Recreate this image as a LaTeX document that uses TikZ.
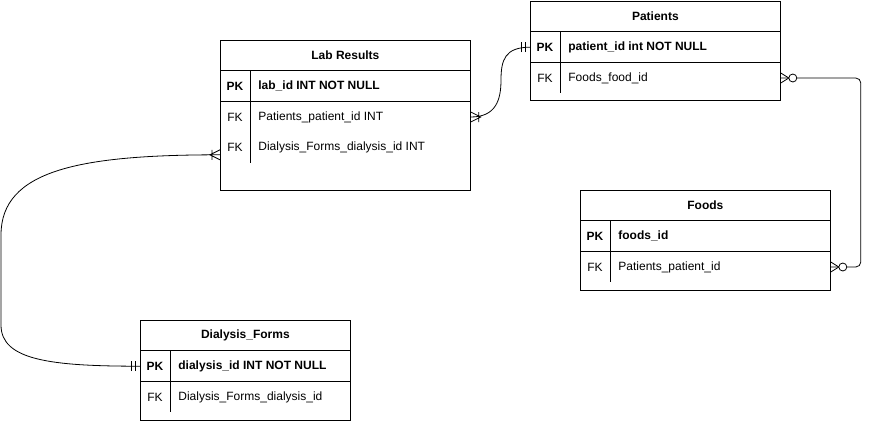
\documentclass[tikz,border=0pt]{standalone}
\usepackage{fontspec}
\setmainfont{Liberation Sans}
\usetikzlibrary{positioning,calc}

\tikzset{
    entity/.style={draw, minimum width=#1, anchor=north west, inner sep=0pt},
    entity/.default=250pt,
    row/.style={minimum width=#1, minimum height=30pt, anchor=north west, inner sep=0pt},
    row/.default=250pt,
    keylabel/.style={anchor=center, xshift=15pt, inner sep=0pt},
    fieldlabel/.style={anchor=west, xshift=38pt, inner sep=0pt},
    mandone/.pic={
        \draw (5,-5) -- (5,5) (9,-5) -- (9,5);
    },
    onemany/.pic={
        \draw (0,-5) -- (10,0) -- (0,5) (8,-5) -- (8,5);
    },
    zeromany/.pic={
        \draw (0,-5) -- (8,0) -- (0,5);
        \draw[fill=white] (12,0) circle[radius=4];
    },
}

\begin{document}
\begin{tikzpicture}[x=1pt, y=-1pt, line width=0.8pt, font=\fontsize{12}{14}\selectfont]
    \useasboundingbox (0,0) rectangle (870,421);

    \node[entity, minimum height=150pt] (lab) at (220,40) {};
    \node[row] (lab-title) at (lab.north west) {\bfseries Lab Results};
    \node[row, below=0pt of lab-title] (lab-pk) {};
    \node[row, below=0pt of lab-pk] (lab-fk1) {};
    \node[row, below=0pt of lab-fk1] (lab-fk2) {};
    \draw (lab-title.south west) -- (lab-title.south east);
    \draw (lab-pk.south west) -- (lab-pk.south east);
    \draw ([xshift=30pt]lab-pk.north west) -- ([xshift=30pt]lab-fk2.south west);
    \node[keylabel] at (lab-pk.west) {\bfseries PK};
    \node[fieldlabel] at (lab-pk.west) {\bfseries lab\_id INT NOT NULL};
    \node[keylabel] at (lab-fk1.west) {FK};
    \node[fieldlabel] at (lab-fk1.west) {Patients\_patient\_id INT};
    \node[keylabel] at (lab-fk2.west) {FK};
    \node[fieldlabel] at (lab-fk2.west) {Dialysis\_Forms\_dialysis\_id INT};

    \node[entity, minimum height=99pt] (pat) at (530,1) {};
    \node[row] (pat-title) at (pat.north west) {\bfseries Patients};
    \node[row, below=0pt of pat-title] (pat-pk) {};
    \node[row, below=0pt of pat-pk] (pat-fk) {};
    \draw (pat-title.south west) -- (pat-title.south east);
    \draw (pat-pk.south west) -- (pat-pk.south east);
    \draw ([xshift=30pt]pat-pk.north west) -- ([xshift=30pt]pat-fk.south west);
    \node[keylabel] at (pat-pk.west) {\bfseries PK};
    \node[fieldlabel] at (pat-pk.west) {\bfseries patient\_id int NOT NULL};
    \node[keylabel] at (pat-fk.west) {FK};
    \node[fieldlabel] at (pat-fk.west) {Foods\_food\_id};

    \node[entity, minimum height=100pt] (foods) at (580,190) {};
    \node[row] (foods-title) at (foods.north west) {\bfseries Foods};
    \node[row, below=0pt of foods-title] (foods-pk) {};
    \node[row, below=0pt of foods-pk] (foods-fk) {};
    \draw (foods-title.south west) -- (foods-title.south east);
    \draw (foods-pk.south west) -- (foods-pk.south east);
    \draw ([xshift=30pt]foods-pk.north west) -- ([xshift=30pt]foods-fk.south west);
    \node[keylabel] at (foods-pk.west) {\bfseries PK};
    \node[fieldlabel] at (foods-pk.west) {\bfseries foods\_id};
    \node[keylabel] at (foods-fk.west) {FK};
    \node[fieldlabel] at (foods-fk.west) {Patients\_patient\_id};

    \node[entity=210pt, minimum height=100pt] (dia) at (140,320) {};
    \node[row=210pt] (dia-title) at (dia.north west) {\bfseries Dialysis\_Forms};
    \node[row=210pt, below=0pt of dia-title] (dia-pk) {};
    \node[row=210pt, below=0pt of dia-pk] (dia-fk) {};
    \draw (dia-title.south west) -- (dia-title.south east);
    \draw (dia-pk.south west) -- (dia-pk.south east);
    \draw ([xshift=30pt]dia-pk.north west) -- ([xshift=30pt]dia-fk.south west);
    \node[keylabel] at (dia-pk.west) {\bfseries PK};
    \node[fieldlabel] at (dia-pk.west) {\bfseries dialysis\_id INT NOT NULL};
    \node[keylabel] at (dia-fk.west) {FK};
    \node[fieldlabel] at (dia-fk.west) {Dialysis\_Forms\_dialysis\_id};

    \coordinate (lab-pat) at (501,80);
    \coordinate (lab-dia) at ([yshift=-7pt]lab-fk2.west);
    \coordinate (dia-top) at (1,235);
    \coordinate (dia-bottom) at (1,325);

    \draw (lab-fk1.east) .. controls +(25,0) and +(0,20) .. (lab-pat)
        .. controls +(0,-20) and +(-25,0) .. (pat-pk.west);
    \draw (lab-dia) .. controls +(-140,0) and +(0,-65) .. (dia-top)
        -- (dia-bottom) .. controls +(0,35) and +(-90,0) .. (dia-pk.west);
    \draw[rounded corners=5pt] (pat-fk.east) -- ++(80,0) |- (foods-fk.east);

    \pic at (lab-fk1.east) {onemany};
    \pic[rotate=180] at (lab-dia) {onemany};
    \pic[rotate=180] at (pat-pk.west) {mandone};
    \pic[rotate=180] at (dia-pk.west) {mandone};
    \pic at (pat-fk.east) {zeromany};
    \pic at (foods-fk.east) {zeromany};
\end{tikzpicture}
\end{document}
